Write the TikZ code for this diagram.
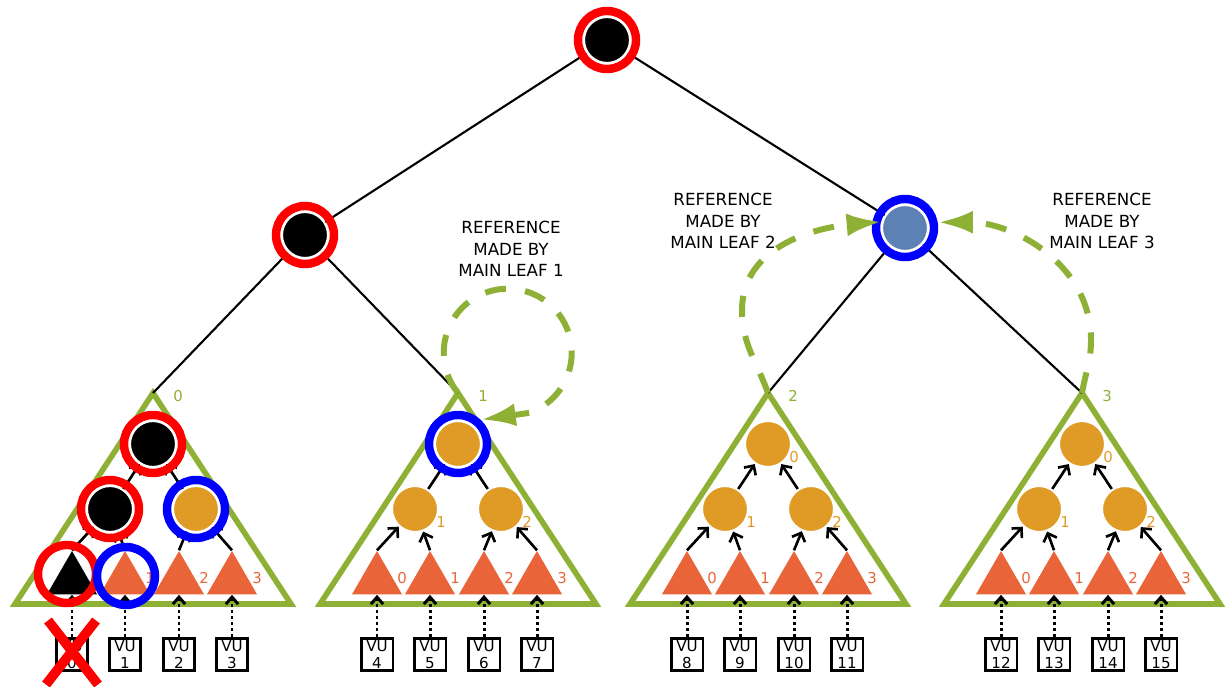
\documentclass[tikz,border=0pt]{standalone}
\usepackage{fontspec}
\setmainfont{DejaVu Sans}
\usetikzlibrary{arrows.meta, shapes.geometric}

\definecolor{treegreen}{RGB}{141,176,53}
\definecolor{nodeorange}{RGB}{224,155,38}
\definecolor{leafred}{RGB}{234,100,58}
\definecolor{rootblue}{RGB}{94,129,181}

\begin{document}
\begin{tikzpicture}[x=0.02cm, y=0.02cm,
    tnode/.style={circle, inner sep=0pt, minimum size=0.92cm, draw=white, line width=1.2pt},
    leaf/.style={regular polygon, regular polygon sides=3, inner sep=0pt, minimum size=1.16cm},
    ring/.style={circle, inner sep=0pt, minimum size=1.16cm, line width=4.8pt},
    ringr/.style={ring, draw=red},
    ringb/.style={ring, draw=blue},
    subtri/.style={draw=treegreen, line width=3.2pt},
    treeedge/.style={line width=1.2pt, -{Stealth[length=4pt, width=4pt]}},
    arr/.style={line width=1.5pt, -{Straight Barb[length=4pt, width=8pt]}},
    vuarrow/.style={line width=1.7pt, dash pattern=on 1.7pt off 1.7pt, -{Straight Barb[length=4pt, width=7pt]}},
    vubox/.style={draw, line width=1.5pt, align=center, inner sep=0.5pt, minimum width=18pt, minimum height=18.5pt, font=\fontsize{8.6}{9.3}\selectfont},
    num/.style={inner sep=0pt, font=\fontsize{8.5}{9.5}\selectfont},
    reftext/.style={align=center, font=\fontsize{9.5}{12.3}\selectfont},
    refloop/.style={draw=treegreen, line width=3.4pt, dash pattern=on 12pt off 11pt, -{Latex[length=20pt, width=13pt]}},
    xmark/.style={draw=red, line width=5.5pt}]
  \useasboundingbox (0,0) rectangle (1226,686);

  % upper tree
  \node[tnode, fill=black] (root) at (607,646) {};
  \node[tnode, fill=black] (l1l) at (305,451) {};
  \node[tnode, fill=rootblue] (l1r) at (905,458) {};

  % main leaves with their local trees
  \foreach \st/\cx/\first/\topc in {0/153/0/black, 1/458/4/nodeorange, 2/768/8/nodeorange, 3/1082/12/nodeorange} {
    \coordinate (s\st-apex) at (\cx,293);
    \draw[subtri] (s\st-apex) -- ++(-138,-211) -- ++(276,0) -- cycle;
    \node[num, text=treegreen] (s\st-idx) at (\cx+25,290) {\st};
    \node[tnode, fill=\topc] (s\st-top) at (\cx,242) {};
    \node[tnode, fill=\topc] (s\st-ml) at (\cx-43,177) {};
    \node[tnode, fill=nodeorange] (s\st-mr) at (\cx+43,177) {};
    \draw[arr] (s\st-ml) -- (s\st-top);
    \draw[arr] (s\st-mr) -- (s\st-top);
    \ifnum\st>1 \node[num, text=nodeorange] (s\st-n0) at (\cx+26,229) {0}; \fi
    \ifnum\st>0
      \node[num, text=nodeorange] (s\st-n1) at (\cx-17,164) {1};
      \node[num, text=nodeorange] (s\st-n2) at (\cx+69,164) {2};
    \fi
    \foreach \lf/\dx/\mnode in {0/-81/ml, 1/-28/ml, 2/26/mr, 3/79/mr} {
      \pgfmathtruncatemacro\vu{\first+\lf}
      \ifnum\vu=0 \def\lcol{black}\else\def\lcol{leafred}\fi
      \node[leaf, fill=\lcol] (s\st-l\lf) at (\cx+\dx,106) {};
      \node[vubox] (vu\vu) at (\cx+\dx,31.5) {VU\\\vu};
      \draw[arr] (s\st-l\lf.corner 1) -- (s\st-\mnode);
      \draw[vuarrow] (vu\vu) -- (s\st-l\lf.south);
      \ifnum\vu>0 \node[num, text=leafred] (s\st-m\lf) at (\cx+\dx+25,108) {\lf}; \fi
    }
  }

  \draw[treeedge] (l1l) -- (root);
  \draw[treeedge] (l1r) -- (root);
  \draw[treeedge] (s0-apex) -- (l1l);
  \draw[treeedge] (s1-apex) -- (l1l);
  \draw[treeedge] (s2-apex) -- (l1r);
  \draw[treeedge] (s3-apex) -- (l1r);

  % marked nodes
  \node[ringr] (rg-root) at (root) {};
  \node[ringr] (rg-l1l) at (l1l) {};
  \node[ringb] (rg-l1r) at (l1r) {};
  \node[ringr] (rg-s0top) at (s0-top) {};
  \node[ringr] (rg-s0ml) at (s0-ml) {};
  \node[ringb] (rg-s0mr) at (s0-mr) {};
  \node[ringr] (rg-s0l0) at ([shift={(-5,6)}]s0-l0.center) {};
  \node[ringb] (rg-s0l1) at ([shift={(1,4)}]s0-l1.center) {};
  \node[ringb] (rg-s1top) at (s1-top) {};

  % references
  \draw[refloop] (s1-apex) arc[start angle=219, end angle=-70, radius=64] -- (rg-s1top.47);
  \draw[refloop] (s2-apex) to[out=110, in=-90] (742,376) to[out=90, in=185] (l1r.165);
  \draw[refloop] (s3-apex) to[out=80, in=-90] (1091,346) to[out=90, in=0] (rg-l1r.10);
  \node[reftext] (ref1) at (511,437) {REFERENCE\\MADE BY\\MAIN LEAF 1};
  \node[reftext] (ref2) at (723,465) {REFERENCE\\MADE BY\\MAIN LEAF 2};
  \node[reftext] (ref3) at (1102,465) {REFERENCE\\MADE BY\\MAIN LEAF 3};

  % failed unit
  \draw[xmark] ([shift={(-24,34)}]vu0.center) -- ([shift={(26,-30)}]vu0.center);
  \draw[xmark] ([shift={(24,34)}]vu0.center) -- ([shift={(-26,-30)}]vu0.center);
\end{tikzpicture}
\end{document}
